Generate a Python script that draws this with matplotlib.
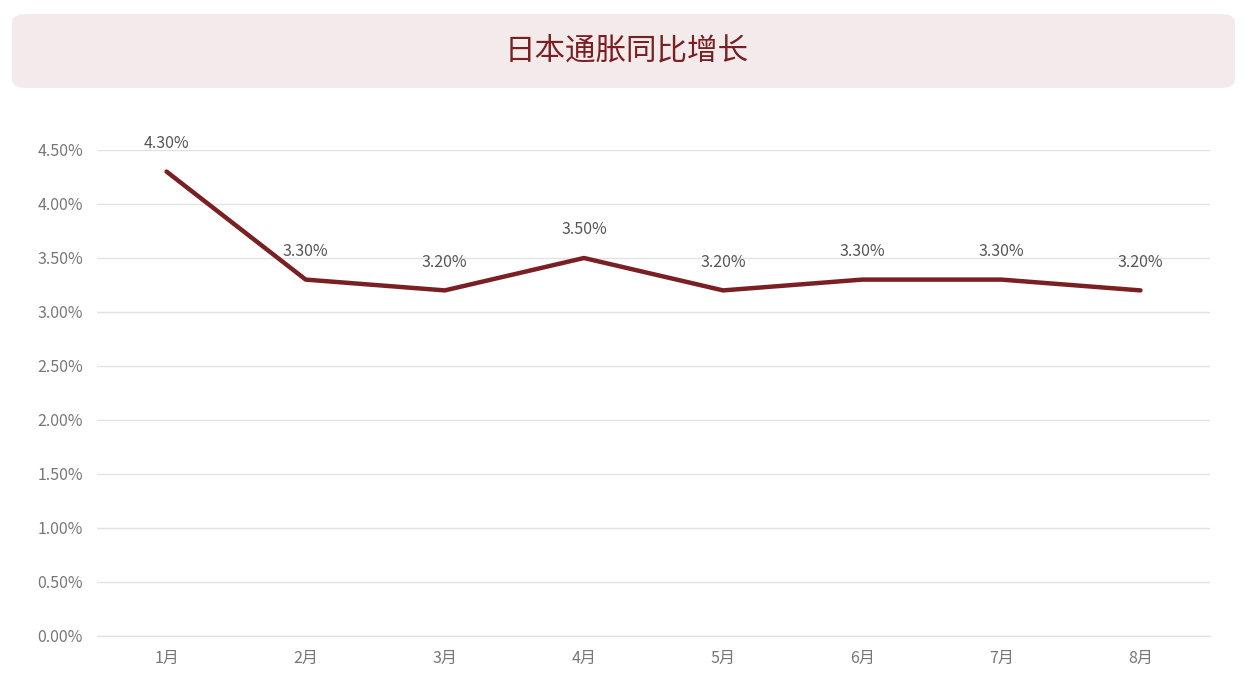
import matplotlib.pyplot as plt
from matplotlib.patches import FancyBboxPatch
from matplotlib.ticker import FuncFormatter

plt.rcParams['font.family'] = ['Noto Sans CJK SC', 'DejaVu Sans']

# data
months = ['1月', '2月', '3月', '4月', '5月', '6月', '7月', '8月']
cpi = [4.3, 3.3, 3.2, 3.5, 3.2, 3.3, 3.3, 3.2]
title = '日本通胀同比增长'

line_color = '#7a1f22'

fig = plt.figure(figsize=(12.54, 6.9), dpi=100)

# title banner
box = FancyBboxPatch((12 / 1254, 1 - 88 / 690), 1223 / 1254, 74 / 690,
                     boxstyle='round,pad=0,rounding_size=0.012',
                     transform=fig.transFigure, facecolor='#f3ebeb',
                     edgecolor='none')
fig.patches.append(box)
fig.text(0.5, 1 - 51 / 690, title, ha='center', va='center',
         fontsize=22, color=line_color)

ax = fig.add_axes([97 / 1254, 1 - 636 / 690, 1113 / 1254, 486 / 690])
x = range(len(months))
ax.plot(x, cpi, color=line_color, linewidth=3.2, solid_capstyle='round')
for i, v in enumerate(cpi):
    ax.annotate(f'{v:.2f}%', (i, v), xytext=(0, 17), textcoords='offset points',
                ha='center', fontsize=11.5, color='#555555')

ax.set_xlim(-0.5, len(months) - 0.5)
ax.set_ylim(0, 4.5)
ax.set_yticks([i * 0.5 for i in range(10)])
ax.yaxis.set_major_formatter(FuncFormatter(lambda v, p: f'{v:.2f}%'))
ax.set_xticks(list(x))
ax.set_xticklabels(months)
ax.grid(axis='y', color='#e3e3e3', linewidth=1)
ax.axhline(0, color='#e3e3e3', linewidth=1, clip_on=False, zorder=0)
ax.set_axisbelow(True)
for s in ax.spines.values():
    s.set_visible(False)
ax.tick_params(length=0, labelsize=11.5, labelcolor='#777777', pad=10)

fig.savefig('out.png', dpi=100)
